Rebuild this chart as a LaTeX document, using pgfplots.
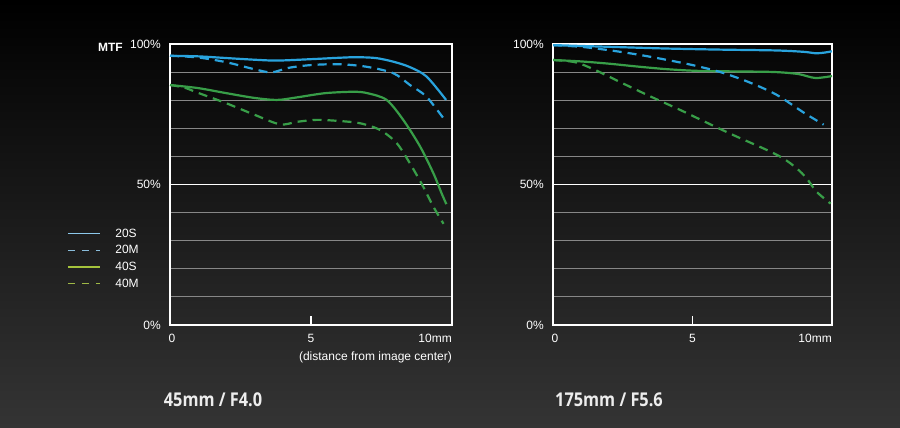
\documentclass[border=0pt]{standalone}
\usepackage{pgfplots}
\pgfplotsset{compat=1.18}
\usepackage{fontspec}
\usepackage{graphicx}
\setmainfont{Liberation Sans}
\newfontfamily\titlefont{Open Sans}

\definecolor{mtfblue}{RGB}{41,163,221}
\definecolor{mtfgreen}{RGB}{56,158,72}
\definecolor{legblue}{RGB}{140,200,235}
\definecolor{leggreen}{RGB}{165,195,60}
\definecolor{gridgray}{RGB}{135,135,135}

\tikzset{lbl/.style={white, font=\fontsize{12}{14}\selectfont, inner sep=0pt}}

\pgfplotsset{
  mtf/.style={
    scale only axis, height=281pt,
    xmin=0, xmax=10, ymin=0, ymax=100,
    clip mode=individual,
    axis line style={white, line width=1.4pt},
    ytick={0,10,...,100},
    yticklabels={0\%,,,,,50\%,,,,,100\%},
    ymajorgrids, grid style={gridgray, line width=0.8pt},
    extra y ticks={50}, extra y tick labels={},
    extra y tick style={grid style={white, line width=1.4pt}, major tick length=0pt},
    xtick={5}, xticklabels={},
    xtick pos=bottom, ytick pos=left,
    tick align=inside,
    x tick style={white, line width=1.4pt}, major tick length=9pt,
    y tick style={draw=none},
    yticklabel style={white, font=\fontsize{12}{14}\selectfont, anchor=east, inner sep=0pt, xshift=-9pt},
  },
  s/.style={line width=2.2pt, smooth, tension=0.5},
  d/.style={line width=2.2pt, smooth, tension=0.5, dash pattern=on 9pt off 6pt},
}

\begin{document}
\begin{tikzpicture}[x=1pt,y=1pt]
\shade[top color=black, middle color={rgb,255:red,14;green,14;blue,14}, bottom color={rgb,255:red,52;green,52;blue,52}]
  (0,0) rectangle (900,428);
\path[use as bounding box] (0,0) rectangle (900,428);

% left chart: 45mm / F4.0
\begin{axis}[mtf, at={(170pt,103pt)}, anchor=south west, width=282pt,
  legend style={at={(-0.376,0.362)}, anchor=north west, draw=none, fill=none,
    text=white, font=\fontsize{12}{14}\selectfont,
    nodes={text height=9pt, text depth=2pt, inner sep=2.8pt}},
  legend cell align=left,
  legend image code/.code={\draw[#1] (0pt,0pt) -- (32pt,0pt);},
]
\addlegendimage{legblue, line width=1.4pt}
\addlegendentry{\hspace{12pt}20S}
\addlegendimage{legblue!85!gray, line width=1.4pt, dash pattern=on 7pt off 7pt}
\addlegendentry{\hspace{12pt}20M}
\addlegendimage{leggreen, line width=1.4pt}
\addlegendentry{\hspace{12pt}40S}
\addlegendimage{leggreen!85!gray, line width=1.4pt, dash pattern=on 7pt off 7pt}
\addlegendentry{\hspace{12pt}40M}

% 40M
\addplot[mtfgreen, d, forget plot] coordinates {
  (0,85.4) (0.5,84.5) (1,82.6) (2,78.9) (3,74.8) (3.9,71.4) (4.5,72.3)
  (5.2,73.0) (6,72.6) (6.74,71.8) (7.45,69.4) (8.04,64.7) (8.51,57.5)
  (8.98,49.2) (9.34,42.1) (9.7,36.0)};
% 40S
\addplot[mtfgreen, s, forget plot] coordinates {
  (0,85.4) (1,84.3) (2,82.5) (3,80.8) (3.8,80.1) (4.5,81.0) (5.5,82.5)
  (6.5,83.0) (7.0,82.5) (7.68,80.1) (8.27,73.0) (8.87,63.5) (9.34,54.0)
  (9.63,46.9) (9.8,43.0)};
% 20M
\addplot[mtfblue, d, forget plot] coordinates {
  (0,95.8) (1,95.2) (2,93.5) (3,91.0) (3.6,89.9) (4.2,91.5) (5,92.5)
  (6,92.8) (6.97,91.9) (7.92,89.6) (8.51,85.4) (9.1,81.2) (9.79,72.3)};
% 20S
\addplot[mtfblue, s, forget plot] coordinates {
  (0,95.8) (1,95.6) (2,95.0) (3,94.4) (3.8,94.1) (5,94.6) (6,95.1)
  (6.6,95.3) (7.3,95.0) (7.92,93.7) (8.5,91.8) (9.1,88.4) (9.79,80.1)};

\node[lbl, anchor=north] at (axis cs:0,0) [xshift=2pt, yshift=-9pt] {0};
\node[lbl, anchor=north] at (axis cs:5,0) [yshift=-9pt] {5};
\node[lbl, anchor=north east] at (axis cs:10,0) [yshift=-9pt] {10mm};
\node[lbl, anchor=north east] at (axis cs:10,0) [yshift=-27pt] {(distance from image center)};
\end{axis}

% right chart: 175mm / F5.6
\begin{axis}[mtf, at={(553pt,103pt)}, anchor=south west, width=279pt]
% 40M
\addplot[mtfgreen, d] coordinates {
  (0,94.3) (0.8,93.5) (1.5,90.8) (2.5,86) (3.5,81.3) (4.5,76.8) (5.45,72.3)
  (6.46,67.6) (7.66,62.3) (8.25,59.3) (8.73,55.8) (9.09,52.2) (9.45,47.4) (9.95,43.2)};
% 40S
\addplot[mtfgreen, s] coordinates {
  (0,94.3) (1,93.8) (2,93) (3,92) (4,91.1) (5,90.5) (6,90.3) (7,90.2)
  (8,90.0) (8.8,89.3) (9.4,87.9) (10,88.6)};
% 20M
\addplot[mtfblue, d] coordinates {
  (0,99.6) (1,99.0) (2,97.8) (3,96.3) (4,94.5) (5,92.5) (6,90) (7,86.5)
  (8,82) (9,75.5) (9.7,71.3)};
% 20S
\addplot[mtfblue, s] coordinates {
  (0,99.6) (2,99.0) (4,98.4) (6,98.0) (8,97.7) (9,97.2) (9.4,96.7) (9.7,96.9) (10,97.4)};

\node[lbl, anchor=north] at (axis cs:0,0) [xshift=2pt, yshift=-9pt] {0};
\node[lbl, anchor=north] at (axis cs:5,0) [yshift=-9pt] {5};
\node[lbl, anchor=north east] at (axis cs:10,0) [yshift=-9pt] {10mm};
\end{axis}

\node[white, font=\fontsize{12}{14}\selectfont\bfseries, anchor=east, inner sep=0pt] at (123,381) {MTF};

\node[white!93!black, inner sep=0pt] at (213,28) {\scalebox{0.86}[1]{\titlefont\bfseries\fontsize{19}{22}\selectfont 45mm / F4.0}};
\node[white!93!black, inner sep=0pt] at (609,28) {\scalebox{0.86}[1]{\titlefont\bfseries\fontsize{19}{22}\selectfont 175mm / F5.6}};
\end{tikzpicture}
\end{document}
